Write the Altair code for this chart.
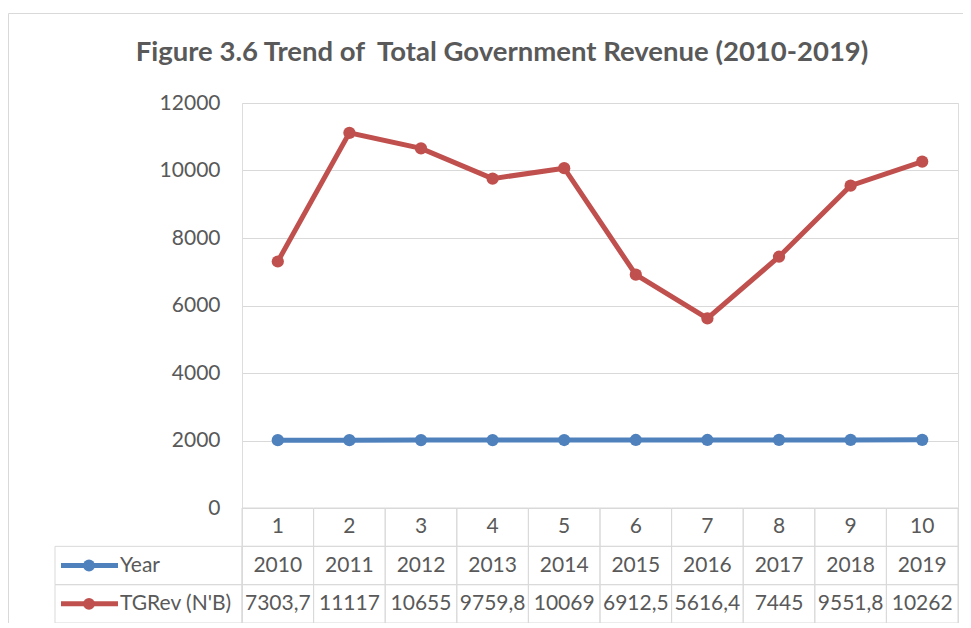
import altair as alt
import pandas as pd

# ---------------- data ----------------
TITLE = "Figure 3.6 Trend of \u00a0Total Government Revenue (2010-2019)"
CATEGORIES = [1, 2, 3, 4, 5, 6, 7, 8, 9, 10]
YEARS = [2010, 2011, 2012, 2013, 2014, 2015, 2016, 2017, 2018, 2019]
TGREV = [7303.7, 11117, 10655, 9759.8, 10069, 6912.5, 5616.4, 7445, 9551.8, 10262]
SERIES = ["Year", "TGRev (N'B)"]
COLORS = ["#4F81BD", "#C0504D"]
Y_TICKS = [0, 2000, 4000, 6000, 8000, 10000, 12000]
ROWS = ["cat", "Year", "TGRev (N'B)"]

# ---------------- style ----------------
FONT = "Lato"
TEXT_COLOR = "#595959"
GRID = "#D9D9D9"
W, H = 716, 520
PLOT_H = 405


def fmt(v):
    return f"{v:g}".replace(".", ",")


series_values = {"Year": YEARS, "TGRev (N'B)": TGREV}
line_df = pd.DataFrame(
    [{"idx": c, "series": s, "value": v}
     for s in SERIES for c, v in zip(CATEGORIES, series_values[s])]
)

table_rows = [{"idx": c, "row": "cat", "label": str(c)} for c in CATEGORIES]
for s in SERIES:
    for c, v in zip(CATEGORIES, series_values[s]):
        table_rows.append({"idx": c, "row": s, "label": fmt(v)})
table_df = pd.DataFrame(table_rows)
legend_df = pd.DataFrame({"row": SERIES, "series": SERIES})
one = pd.DataFrame({"t": [TITLE]})

x_scale = alt.Scale(type="band", domain=CATEGORIES, paddingInner=0, paddingOuter=0)
row_scale = alt.Scale(type="band", domain=ROWS, range=[PLOT_H, H], paddingInner=0, paddingOuter=0)
color = alt.Color("series:N", scale=alt.Scale(domain=SERIES, range=COLORS), legend=None)

border = alt.Chart(one).mark_rect(fillOpacity=0, stroke=GRID, strokeWidth=1).encode(
    x=alt.value(-233.5), x2=alt.value(780), y=alt.value(-89.5), y2=alt.value(600)
)

title = alt.Chart(one).mark_text(
    font=FONT, fontSize=27.5, fontWeight="bold", color=TEXT_COLOR,
    align="center", baseline="alphabetic"
).encode(x=alt.value(260), y=alt.value(-42), text="t:N")

lines = alt.Chart(line_df).mark_line(
    strokeWidth=5,
    point=alt.OverlayMarkDef(size=150, filled=True, opacity=1),
).encode(
    x=alt.X("idx:O", scale=x_scale, axis=None, bandPosition=0.5),
    y=alt.Y(
        "value:Q",
        scale=alt.Scale(domain=[0, 12000], range=[PLOT_H, 0], nice=False),
        axis=alt.Axis(
            values=Y_TICKS, format="d", grid=True, gridColor=GRID, gridWidth=1,
            domain=False, ticks=False, tickSize=0, labelPadding=22,
            labelFont=FONT, labelFontSize=21, labelColor=TEXT_COLOR, title=None,
        ),
    ),
    color=color,
)

cells = alt.Chart(table_df).mark_rect(fillOpacity=0, stroke=GRID, strokeWidth=1).encode(
    x=alt.X("idx:O", scale=x_scale, axis=None),
    y=alt.Y("row:N", scale=row_scale, axis=None),
)

cell_text = alt.Chart(table_df).mark_text(
    font=FONT, fontSize=21, color=TEXT_COLOR, align="center", baseline="middle"
).encode(
    x=alt.X("idx:O", scale=x_scale, axis=None, bandPosition=0.5),
    y=alt.Y("row:N", scale=row_scale, axis=None, bandPosition=0.5),
    text="label:N",
)

legend_cells = alt.Chart(legend_df).mark_rect(fillOpacity=0, stroke=GRID, strokeWidth=1).encode(
    x=alt.value(-187), x2=alt.value(0),
    y=alt.Y("row:N", scale=row_scale, axis=None),
)

legend_rule = alt.Chart(legend_df).mark_rule(strokeWidth=5).encode(
    x=alt.value(-181), x2=alt.value(-124),
    y=alt.Y("row:N", scale=row_scale, axis=None, bandPosition=0.5),
    color=color,
)

legend_dot = alt.Chart(legend_df).mark_circle(size=140, opacity=1).encode(
    x=alt.value(-153),
    y=alt.Y("row:N", scale=row_scale, axis=None, bandPosition=0.5),
    color=color,
)

legend_text = alt.Chart(legend_df).mark_text(
    font=FONT, fontSize=21, color=TEXT_COLOR, align="left", baseline="middle"
).encode(
    x=alt.value(-122),
    y=alt.Y("row:N", scale=row_scale, axis=None, bandPosition=0.5),
    text="row:N",
)

chart = alt.layer(
    border, title, lines, cells, cell_text, legend_cells, legend_rule, legend_dot, legend_text
).resolve_scale(y="independent").properties(
    width=W, height=H,
    padding={"left": 234, "top": 95, "right": 5, "bottom": 0},
    autosize=alt.AutoSizeParams(type="none"),
).configure_view(stroke=None).configure(font=FONT)

chart.save("out.html", embed_options={"renderer": "svg", "actions": False})
